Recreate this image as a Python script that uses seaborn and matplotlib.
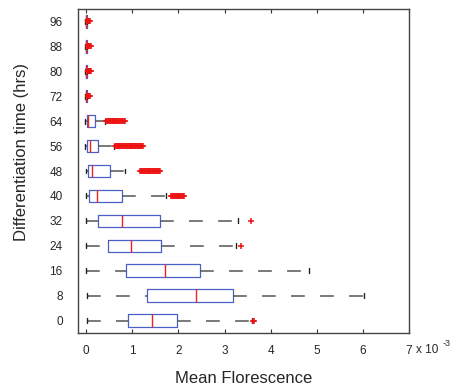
import numpy as np
import pandas as pd
import matplotlib
matplotlib.use("Agg")
import matplotlib.pyplot as plt
import seaborn as sns

# ---- data (units of 1e-3) ----
hours = ["96", "88", "80", "72", "64", "56", "48", "40", "32", "24", "16", "8", "0"]
whisker_lo = [-0.03, -0.03, -0.03, -0.03, -0.02, -0.02, -0.01, 0.00, 0.00, 0.00, 0.00, 0.01, 0.01]
q1 = [-0.01, -0.01, -0.01, -0.01, 0.01, 0.01, 0.03, 0.06, 0.26, 0.46, 0.87, 1.31, 0.90]
median = [0.00, 0.00, 0.00, 0.00, 0.03, 0.08, 0.13, 0.24, 0.78, 0.97, 1.70, 2.39, 1.43]
q3 = [0.01, 0.01, 0.01, 0.01, 0.18, 0.26, 0.51, 0.77, 1.59, 1.62, 2.47, 3.19, 1.97]
whisker_hi = [0.02, 0.02, 0.02, 0.02, 0.41, 0.60, 0.83, 1.72, 3.30, 3.25, 4.83, 6.02, 3.59]
fliers = {
    "96": [0.03, 0.04, 0.05, 0.06, 0.07],
    "88": [0.03, 0.04, 0.05, 0.06, 0.08, 0.10],
    "80": [0.03, 0.04, 0.05, 0.06, 0.07, 0.08, 0.10],
    "72": [0.03, 0.04, 0.05, 0.06, 0.07],
    "64": [0.43, 0.45, 0.47, 0.49, 0.51, 0.53, 0.55, 0.57, 0.59, 0.61, 0.63, 0.65,
           0.67, 0.69, 0.71, 0.73, 0.75, 0.77, 0.79, 0.81, 0.83],
    "56": [0.62, 0.64, 0.66, 0.68, 0.70, 0.72, 0.74, 0.76, 0.78, 0.80, 0.82, 0.84,
           0.86, 0.88, 0.90, 0.92, 0.94, 0.96, 0.98, 1.00, 1.02, 1.04, 1.06, 1.08,
           1.10, 1.12, 1.14, 1.16, 1.18, 1.20, 1.22],
    "48": [1.17, 1.19, 1.21, 1.23, 1.25, 1.27, 1.29, 1.31, 1.33, 1.35, 1.37, 1.39,
           1.41, 1.43, 1.45, 1.47, 1.49, 1.51, 1.53, 1.55, 1.57, 1.59],
    "40": [1.84, 1.86, 1.88, 1.90, 1.92, 1.94, 1.96, 1.98, 2.00, 2.02, 2.04, 2.06,
           2.08, 2.10, 2.12],
    "32": [3.57],
    "24": [3.36],
    "16": [],
    "8": [],
    "0": [3.61, 3.63],
}
x_ticks = [0, 1, 2, 3, 4, 5, 6, 7]

# ---- tables ----
box_rows = []
for i, h in enumerate(hours):
    for v in (whisker_lo[i], q1[i], median[i], q3[i], whisker_hi[i]):
        box_rows.append({"hrs": h, "val": v})
box_df = pd.DataFrame(box_rows)
fl_df = pd.DataFrame([{"hrs": h, "val": v} for h in hours for v in fliers[h]])

sns.set_style("white")
plt.rcParams["font.family"] = ["Liberation Sans", "DejaVu Sans"]

W, H = 454, 387
fig = plt.figure(figsize=(W / 100, H / 100), dpi=100)
ax = fig.add_axes([78 / W, 1 - 333 / H, (409 - 78) / W, (333 - 9) / H])

blue = "#4b5fc8"
wcol = "#555555"
sns.boxplot(
    data=box_df, x="val", y="hrs", order=hours, orient="h", whis=np.inf,
    width=0.5, fill=False, color=blue, linewidth=0.9, ax=ax,
    boxprops=dict(color=blue, linewidth=0.9),
    medianprops=dict(color="#ee2222", linewidth=1.0),
    whiskerprops=dict(color=wcol, linewidth=1.1, linestyle=(0, (9, 10))),
    capprops=dict(color="#222222", linewidth=1.0),
    capwidths=0.2,
)

# lower whiskers: dash pattern starts at the cap (as in the reference)
for ln in ax.lines:
    xd, yd = ln.get_xdata(), ln.get_ydata()
    if len(xd) == 2 and ln.get_linestyle() not in ("-", "solid") and xd[0] > xd[1]:
        ln.set_data(xd[::-1], yd[::-1])

sns.stripplot(
    data=fl_df, x="val", y="hrs", order=hours, orient="h", jitter=False,
    marker="+", color="#ee1111", edgecolor="#ee1111", linewidth=1.1, size=4.5,
    ax=ax, zorder=3,
)

ax.set_xlim(-0.18, 7)
ax.set_ylim(len(hours) - 0.5, -0.5)
ax.set_xticks(x_ticks)
ax.set_xticklabels([str(t) for t in x_ticks], fontsize=8.5)
ax.set_yticks(range(len(hours)))
ax.set_yticklabels(hours, fontsize=8.5)
ax.tick_params(axis="x", direction="in", length=3, width=0.8, color="#333333",
               top=True, bottom=True, pad=9)
ax.tick_params(axis="y", length=0, pad=11)
for s in ax.spines.values():
    s.set_visible(True)
    s.set_color("#444444")
    s.set_linewidth(1.0)

ax.set_xlabel("Mean Florescence", fontsize=12, labelpad=10)
ax.set_ylabel("Differentiation time (hrs)", fontsize=12)
ax.yaxis.set_label_coords(-0.147, (333 - 152) / 324)

fig.text(416 / W, 1 - 350 / H, "x 10", fontsize=8.5, ha="left", va="center")
fig.text(443 / W, 1 - 343 / H, "-3", fontsize=6.5, ha="left", va="center")

fig.savefig("out.png", dpi=100, facecolor="white")
